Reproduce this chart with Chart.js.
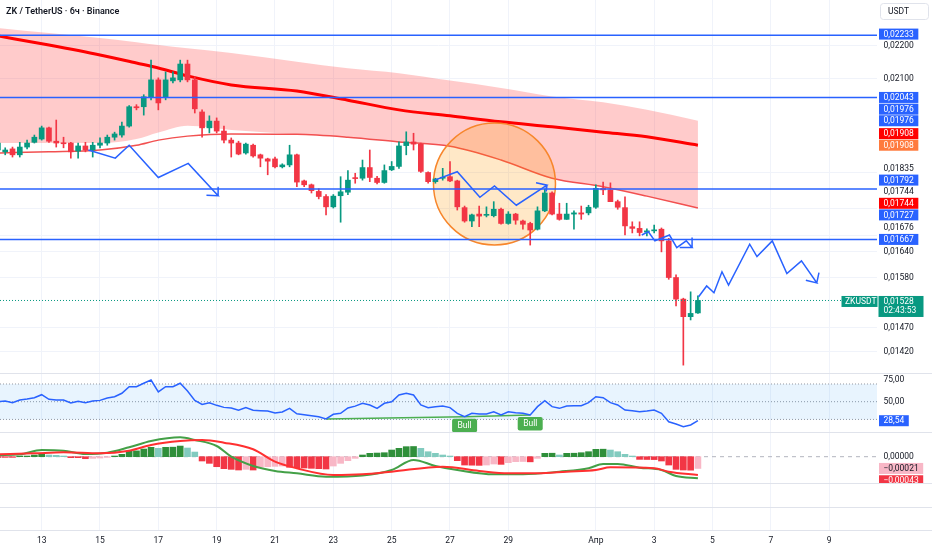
<!DOCTYPE html>
<html>
<head>
<meta charset="utf-8">
<script src="https://cdn.jsdelivr.net/npm/chart.js@4.4.1/dist/chart.umd.min.js"></script>
<style>
  body { margin: 0; background: #fff; width: 932px; height: 550px; overflow: hidden; position: relative; }
  canvas { position: absolute; left: 0; }
</style>
</head>
<body>
<canvas id="main" width="932" height="373" style="top:0"></canvas>
<canvas id="rsi" width="932" height="59" style="top:373px"></canvas>
<canvas id="macd" width="932" height="51" style="top:432px"></canvas>
<canvas id="axis" width="932" height="67" style="top:483px"></canvas>
<script>
// ZK / USDT, 6h candles. Position 0 = 12 Mar 00:00, first candle = 11 Mar 12:00
var firstPos = -2;

var open = [0.01895,0.01890,0.01898,0.01882,0.01903,0.01916,0.01925,0.01956,0.01919,0.01914,
  0.01914,0.01892,0.01906,0.01895,0.01908,0.01914,0.01930,0.01936,0.01961,0.02016,
  0.02016,0.02045,0.02095,0.02045,0.02092,0.02095,0.02143,0.02095,0.02001,0.01956,
  0.01975,0.01947,0.01922,0.01914,0.01887,0.01908,0.01882,0.01871,0.01871,0.01850,
  0.01855,0.01882,0.01813,0.01803,0.01786,0.01773,0.01747,0.01775,0.01784,0.01820,
  0.01820,0.01848,0.01820,0.01809,0.01842,0.01851,0.01907,0.01917,0.01911,0.01835,
  0.01811,0.01820,0.01824,0.01813,0.01745,0.01712,0.01729,0.01726,0.01725,0.01741,
  0.01706,0.01729,0.01712,0.01706,0.01692,0.01737,0.01782,0.01729,0.01716,0.01729,
  0.01732,0.01732,0.01746,0.01794,0.01790,0.01760,0.01745,0.01698,0.01694,0.01685,
  0.01688,0.01692,0.01664,0.01579,0.01531,0.01493,0.01501];
var high = [0.01919,0.01901,0.01903,0.01916,0.01922,0.01936,0.01961,0.01958,0.01978,0.01930,
  0.01916,0.01914,0.01916,0.01916,0.01928,0.01936,0.01944,0.01972,0.02019,0.02022,
  0.02051,0.02155,0.02101,0.02119,0.02119,0.02155,0.02155,0.02104,0.02007,0.01990,
  0.01984,0.01961,0.01928,0.01919,0.01914,0.01911,0.01884,0.01873,0.01876,0.01858,
  0.01908,0.01884,0.01815,0.01805,0.01793,0.01778,0.01778,0.01824,0.01840,0.01833,
  0.01868,0.01895,0.01825,0.01855,0.01864,0.01917,0.01945,0.01941,0.01914,0.01837,
  0.01820,0.01846,0.01864,0.01815,0.01749,0.01729,0.01749,0.01747,0.01760,0.01744,
  0.01735,0.01731,0.01714,0.01709,0.01747,0.01792,0.01785,0.01756,0.01756,0.01737,
  0.01749,0.01751,0.01803,0.01810,0.01808,0.01764,0.01772,0.01710,0.01710,0.01693,
  0.01702,0.01695,0.01670,0.01585,0.01533,0.01547,0.01538];
var low = [0.01892,0.01882,0.01876,0.01876,0.01898,0.01914,0.01922,0.01916,0.01903,0.01901,
  0.01873,0.01873,0.01890,0.01876,0.01901,0.01908,0.01922,0.01930,0.01958,0.02007,
  0.01992,0.02036,0.02007,0.02036,0.02086,0.02089,0.02089,0.01998,0.01930,0.01942,
  0.01942,0.01914,0.01876,0.01882,0.01884,0.01876,0.01850,0.01829,0.01847,0.01847,
  0.01850,0.01798,0.01798,0.01782,0.01767,0.01727,0.01744,0.01709,0.01778,0.01807,
  0.01815,0.01811,0.01805,0.01807,0.01840,0.01846,0.01882,0.01895,0.01835,0.01807,
  0.01807,0.01815,0.01811,0.01739,0.01709,0.01698,0.01698,0.01722,0.01722,0.01704,
  0.01704,0.01704,0.01692,0.01654,0.01690,0.01735,0.01727,0.01714,0.01716,0.01692,
  0.01716,0.01727,0.01743,0.01778,0.01760,0.01741,0.01678,0.01683,0.01676,0.01676,
  0.01683,0.01638,0.01575,0.01516,0.01393,0.01486,0.01500];
var close = [0.01914,0.01895,0.01882,0.01903,0.01914,0.01930,0.01956,0.01919,0.01914,0.01912,
  0.01890,0.01906,0.01895,0.01908,0.01914,0.01930,0.01939,0.01961,0.02016,0.02013,
  0.02045,0.02095,0.02027,0.02095,0.02101,0.02143,0.02095,0.02010,0.01956,0.01975,
  0.01947,0.01922,0.01914,0.01884,0.01911,0.01879,0.01873,0.01865,0.01850,0.01855,
  0.01882,0.01810,0.01803,0.01788,0.01773,0.01747,0.01774,0.01785,0.01815,0.01819,
  0.01848,0.01822,0.01809,0.01840,0.01851,0.01906,0.01917,0.01911,0.01838,0.01811,
  0.01818,0.01822,0.01813,0.01747,0.01712,0.01727,0.01724,0.01728,0.01741,0.01706,
  0.01729,0.01714,0.01704,0.01690,0.01737,0.01782,0.01729,0.01716,0.01729,0.01732,
  0.01729,0.01746,0.01794,0.01790,0.01760,0.01746,0.01700,0.01694,0.01684,0.01688,
  0.01690,0.01664,0.01579,0.01531,0.01493,0.01500,0.01528];

// moving averages and the shaded band, read at these positions
var maIdx = [-2, 5, 12, 17, 20, 24, 30, 39, 46, 53, 60, 67, 74, 81, 87, 94];
var ema200 = [0.02231,0.02202,0.02171,0.02146,0.02131,0.02107,0.02080,0.02062,0.02035,0.02007,0.01990,0.01973,0.01959,0.01944,0.01931,0.01908];
var ma50 = [0.01887,0.01890,0.01895,0.01908,0.01922,0.01933,0.01939,0.01938,0.01930,0.01917,0.01905,0.01868,0.01820,0.01798,0.01774,0.01744];
var bandTop = [0.02256,0.02240,0.02224,0.02211,0.02202,0.02192,0.02177,0.02150,0.02130,0.02115,0.02093,0.02071,0.02046,0.02029,0.02007,0.01976];
var bandBottom = [0.01914,0.01914,0.01914,0.01925,0.01943,0.01962,0.01950,0.01938,0.01930,0.01917,0.01905,0.01868,0.01820,0.01798,0.01774,0.01744];

// drawings
var hLevels = [0.02233, 0.02043, 0.01792, 0.01667];
var path1X = [10.4, 14.1, 16.0, 20.0, 24.1, 28.2, 26.6, 28.2, 28.2];
var path1Y = [0.01895,0.01873,0.01908,0.01822,0.01859,0.01775,0.01776,0.01775,0.01798];
var path2X = [57.9, 61.0, 64.1, 66.1, 69.1, 73.3, 71.8, 73.3, 73.2];
var path2Y = [0.01815,0.01837,0.01771,0.01800,0.01751,0.01802,0.01808,0.01802,0.01786];
var path3X = [86.3, 87.2, 88.1, 90.1, 91.1, 92.4, 93.2, 91.5, 93.2, 93.2];
var path3Y = [0.01678,0.01686,0.01664,0.01678,0.01648,0.01664,0.01648,0.01648,0.01648,0.01672];
var path4X = [94.1, 95.2, 96.2, 97.3, 98.2, 101.1, 102.1, 104.2, 106.2, 108.2, 110.3, 108.8, 110.3, 110.6];
var path4Y = [0.01536,0.01560,0.01545,0.01592,0.01562,0.01656,0.01627,0.01664,0.01588,0.01617,0.01567,0.01573,0.01567,0.01590];
var circleX = 66.1, circleY = 0.01805;

// price scale labels
var markPrices = [0.02233, 0.02043, 0.01976, 0.01976, 0.01908, 0.01908, 0.01792, 0.01744, 0.01727, 0.01667];
var markColors = ['#2962ff','#2962ff','#2962ff','#2962ff','#ff7a3d','#ff0000','#2962ff','#ff0000','#2962ff','#2962ff'];
var tickPrices = [0.02200, 0.02100, 0.01835, 0.01744, 0.01676, 0.01640, 0.01580, 0.01470, 0.01420];

// RSI
var rsi = [50.0,50.8,48.9,51.9,53.0,54.5,57.9,52.7,51.9,51.9,
  48.5,50.4,48.9,50.8,51.5,54.2,55.6,59.5,67.0,67.0,
  70.8,74.5,61.0,67.0,67.0,70.8,62.1,51.5,47.0,48.9,
  45.9,43.6,42.9,40.3,43.3,40.3,39.9,39.5,37.2,38.4,
  42.5,36.4,35.3,34.2,33.1,30.5,35.8,36.9,42.9,45.0,
  48.2,46.3,42.5,48.2,50.0,57.6,59.5,57.6,46.3,43.3,
  44.4,45.1,43.3,36.9,33.1,36.9,36.1,36.1,38.7,35.0,
  38.7,37.6,36.9,35.0,44.4,51.1,44.4,42.5,45.1,45.5,
  45.5,48.9,55.6,54.5,48.9,46.3,40.6,39.8,38.7,39.5,
  40.6,36.9,27.4,24.8,21.8,23.7,28.54];
var bullFrom = [43, 62];
var bullTo = [62, 71];

// MACD (values in 1e-5)
var hist = [-1.2,-1.2,-1.2,1.2,1.2,3.0,4.2,3.0,2.4,1.2,
  -1.8,-1.8,-3.6,-3.0,-2.4,-1.2,1.2,4.2,10.1,10.4,
  13.7,16.7,14.9,16.7,17.0,19.0,15.5,8.3,-7.7,-11.9,
  -17.9,-21.4,-22.6,-23.8,-22.6,-23.8,-18.5,-17.9,-17.3,-16.7,
  -19.0,-19.6,-20.2,-20.8,-21.4,-22.0,-16.7,-11.9,-7.1,-3.0,
  3.0,6.0,6.5,7.1,11.9,14.9,17.9,18.2,14.9,8.9,
  6.0,3.0,1.2,-7.1,-14.9,-15.2,-15.5,-14.9,-13.1,-13.7,
  -10.7,-8.9,-8.6,-9.2,-3.0,6.0,6.2,3.0,6.0,6.2,
  7.1,8.9,13.1,13.4,11.9,8.9,4.2,1.2,-4.8,-5.0,
  -5.2,-7.7,-14.9,-22.6,-23.8,-24.1,-21.0];
var macdIdx = [-2,1,4,7,10,13,16,19,23,25,28,30,33,36,39,43,48,52,55,58,61,66,70,75,79,81,83,86,89,91,94];
var macdLine = [3.0,4.3,12.0,10.7,4.8,7.1,16.8,28.0,34.6,29.8,19.1,0,-16.6,-25.5,-29.7,-35.7,-33.5,-23.8,-5.9,-16.6,-23.8,-31.5,-31.5,-26.8,-20.8,-13.0,-13.0,-19.6,-23.8,-34.5,-38.6];
var signalIdx = [-2,3,7,12,16,19,23,26,29,33,36,39,44,48,52,59,64,68,72,76,80,82,88,90,94];
var signalLine = [4.3,6.0,7.8,6.0,10.7,20.9,28.0,29.8,25.0,13.2,-8.9,-20.8,-32.7,-31.5,-26.8,-17.9,-25.5,-29.7,-29.7,-26.8,-23.8,-19.0,-20.8,-26.8,-32.7];
var macdTagValues = [0, -0.00021, -0.00043];
var macdTagColors = [null, '#f8b7c6', '#f23645'];

// time axis
var dayTicks = [4, 12, 20, 28, 36, 44, 52, 60, 68, 80, 88, 96, 104, 112];
var dayLabels = ['13','15','17','19','21','23','25','27','29','Апр','3','5','7','9'];

var xMin = -1.714, xMax = 118.56;
var AXIS_W = 55;
var AXIS_FONT = '8.5px Roboto';
var GRID = '#f0f3fa';
var SEP = '#e0e3eb';
var TXT = '#131722';

Chart.defaults.font.family = 'Roboto';
Chart.defaults.animation = false;
Chart.defaults.events = [];
Chart.defaults.elements.point.radius = 0;
Chart.defaults.elements.point.hoverRadius = 0;
Chart.defaults.plugins.legend.display = false;
Chart.defaults.plugins.tooltip.enabled = false;
Chart.defaults.layout.autoPadding = false;
Chart.defaults.layout.padding = 0;

var candleX = open.map(function (o, k) { return firstPos + k; });
var candleColor = open.map(function (o, k) { return close[k] >= o ? '#089981' : '#f23645'; });

function pts(xs, ys, mul) {
  return xs.map(function (x, k) { return { x: x, y: ys[k] * (mul || 1) }; });
}
function flat(v) { return [{ x: xMin, y: v }, { x: xMax, y: v }]; }
function fmt(v, d) {
  return (v < 0 ? '\u2212' : '') + Math.abs(v).toFixed(d).replace('.', ',');
}
function tag(ctx, text, x, y, bg, fg) {
  ctx.font = AXIS_FONT;
  var w = ctx.measureText(text).width + 9;
  if (bg) { ctx.fillStyle = bg; ctx.fillRect(x, y - 5.5, w, 11); }
  ctx.fillStyle = fg;
  ctx.textBaseline = 'middle';
  ctx.fillText(text, x + 4.5, y + 0.5);
}
function sepLine(ctx, y) {
  ctx.fillStyle = SEP;
  ctx.fillRect(0, y, 932, 1);
}

function xScale(labels) {
  return {
    type: 'linear', min: xMin, max: xMax, bounds: 'data', offset: false,
    grid: { color: GRID, drawTicks: false, offset: false },
    border: { display: false },
    ticks: { display: labels, color: TXT, font: { size: 8.5 }, padding: 6, maxRotation: 0, autoSkip: false,
      callback: function (v, k) { return dayLabels[k]; } },
    afterBuildTicks: function (s) { s.ticks = dayTicks.map(function (v) { return { value: v }; }); },
    afterFit: function (s) { s.height = labels ? 20 : 0; }
  };
}
function yScale(type, min, max, ticks) {
  return {
    type: type, position: 'right', min: min, max: max, bounds: 'data',
    grid: { color: GRID, drawTicks: false, display: !!ticks },
    border: { display: false },
    ticks: { display: false },
    afterBuildTicks: function (s) { if (ticks) s.ticks = ticks.map(function (v) { return { value: v }; }); },
    afterFit: function (s) { s.width = AXIS_W; }
  };
}

// ---------- main price pane ----------
var mainLabels = {
  id: 'mainLabels',
  afterDraw: function (chart) {
    var ctx = chart.ctx, ys = chart.scales.y;
    var items = [];
    markPrices.forEach(function (p, k) { items.push({ p: p, bg: markColors[k], fg: '#fff' }); });
    tickPrices.forEach(function (p) { items.push({ p: p, bg: null, fg: TXT }); });
    items.sort(function (a, b) { return a.p - b.p; });
    ctx.save();
    var prev = Infinity;
    items.forEach(function (it) {
      var py = Math.min(ys.getPixelForValue(it.p), prev - 11.6);
      prev = py;
      tag(ctx, fmt(it.p, 5), 879, py, it.bg, it.fg);
    });

    // last price
    var last = close[close.length - 1];
    var ly = ys.getPixelForValue(last);
    ctx.fillStyle = '#089981';
    ctx.fillRect(878.5, ly - 4.5, 45, 21);
    ctx.fillRect(841.5, ly - 4.5, 36, 11);
    ctx.fillStyle = '#fff';
    ctx.font = AXIS_FONT;
    ctx.textBaseline = 'middle';
    ctx.fillText(fmt(last, 5), 883.5, ly + 1);
    ctx.fillText('02:43:53', 883.5, ly + 10.5);
    ctx.fillText('ZKUSDT', 845, ly + 1);

    // currency box
    ctx.strokeStyle = SEP;
    ctx.lineWidth = 1;
    ctx.beginPath();
    ctx.roundRect(880.5, 3.5, 48, 16, 3);
    ctx.stroke();
    ctx.fillStyle = TXT;
    ctx.fillText('USDT', 888, 12);

    // title
    ctx.font = '600 9px Roboto';
    ctx.fillText('ZK / TetherUS · 6ч · Binance', 6, 11.5);
    ctx.restore();
  }
};

var mainSets = [
  { type: 'line', data: pts(maIdx, bandTop), borderWidth: 0, fill: '+1', backgroundColor: 'rgba(255,82,82,0.3)', cubicInterpolationMode: 'monotone', order: 9 },
  { type: 'line', data: pts(maIdx, bandBottom), borderWidth: 0, fill: false, cubicInterpolationMode: 'monotone', order: 9 },
  { type: 'line', data: pts(maIdx, ema200), borderColor: '#ff0000', borderWidth: 3, cubicInterpolationMode: 'monotone', order: 6 },
  { type: 'line', data: pts(maIdx, ma50), borderColor: '#f25050', borderWidth: 1.5, cubicInterpolationMode: 'monotone', order: 5 },
  { type: 'bubble', data: [{ x: circleX, y: circleY, r: 61 }], backgroundColor: 'rgba(255,152,0,0.22)', borderColor: '#f7862b', borderWidth: 1.5, order: 4 },
  { type: 'bar', data: candleX.map(function (x, k) { return { x: x, y: [low[k], high[k]] }; }), backgroundColor: candleColor, barThickness: 1, grouped: false, order: 3 },
  { type: 'bar', data: candleX.map(function (x, k) { return { x: x, y: [open[k], close[k]] }; }), backgroundColor: candleColor, barThickness: 5, minBarLength: 1, grouped: false, order: 2 },
  { type: 'line', data: flat(close[close.length - 1]), borderColor: '#089981', borderWidth: 1, borderDash: [1, 2], order: 1 }
];
hLevels.forEach(function (v) {
  mainSets.push({ type: 'line', data: flat(v), borderColor: '#2962ff', borderWidth: 1.5, order: 0 });
});
[[path1X, path1Y], [path2X, path2Y], [path3X, path3Y], [path4X, path4Y]].forEach(function (p) {
  mainSets.push({ type: 'line', data: pts(p[0], p[1]), borderColor: '#2962ff', borderWidth: 1.5, tension: 0, order: 0 });
});

new Chart(document.getElementById('main'), {
  type: 'line',
  data: { datasets: mainSets },
  options: {
    responsive: false,
    scales: { x: xScale(false), y: yScale('logarithmic', 0.013774, 0.023486, tickPrices) }
  },
  plugins: [mainLabels]
});

// ---------- RSI pane ----------
var rsiLabels = {
  id: 'rsiLabels',
  afterDraw: function (chart) {
    var ctx = chart.ctx, ys = chart.scales.y, xs = chart.scales.x;
    ctx.save();
    sepLine(ctx, 0);
    tag(ctx, '75,00', 879, ys.getPixelForValue(75), null, TXT);
    tag(ctx, '50,00', 879, ys.getPixelForValue(50), null, TXT);
    var last = rsi[rsi.length - 1];
    tag(ctx, fmt(last, 2), 879, ys.getPixelForValue(last), '#2962ff', '#fff');
    bullTo.forEach(function (i) {
      var px = xs.getPixelForValue(i), py = ys.getPixelForValue(rsi[i - firstPos]);
      ctx.fillStyle = '#4caf50';
      ctx.beginPath();
      ctx.roundRect(px - 12.5, py + 2, 25, 13.5, 2);
      ctx.fill();
      ctx.fillStyle = '#fff';
      ctx.font = AXIS_FONT;
      ctx.textAlign = 'center';
      ctx.textBaseline = 'middle';
      ctx.fillText('Bull', px, py + 9);
      ctx.textAlign = 'left';
    });
    ctx.restore();
  }
};
var rsiSets = [
  { type: 'line', data: candleX.map(function (x, k) { return { x: x, y: rsi[k] }; }), borderColor: '#2962ff', borderWidth: 1.5, order: 0 },
  { type: 'line', data: flat(70), borderColor: '#9598a1', borderWidth: 1, borderDash: [1, 2], fill: '+1', backgroundColor: 'rgba(33,150,243,0.1)', order: 3 },
  { type: 'line', data: flat(30), borderColor: '#9598a1', borderWidth: 1, borderDash: [1, 2], fill: false, order: 3 },
  { type: 'line', data: flat(50), borderColor: '#9598a1', borderWidth: 1, borderDash: [1, 2], order: 3 }
];
bullFrom.forEach(function (a, k) {
  var b = bullTo[k];
  rsiSets.push({ type: 'line', data: [{ x: a, y: rsi[a - firstPos] }, { x: b, y: rsi[b - firstPos] }], borderColor: '#4caf50', borderWidth: 1.5, order: 1 });
});
new Chart(document.getElementById('rsi'), {
  type: 'line',
  data: { datasets: rsiSets },
  options: {
    responsive: false,
    scales: { x: xScale(false), y: yScale('linear', 15.8, 82.4, null) }
  },
  plugins: [rsiLabels]
});

// ---------- MACD pane ----------
var histColor = hist.map(function (v, k) {
  var p = k > 0 ? hist[k - 1] : v;
  if (v >= 0) return v >= p ? '#2f8f3a' : '#82cbbf';
  return v <= p ? '#f23645' : '#f8b7c6';
});
var macdLabels = {
  id: 'macdLabels',
  afterDraw: function (chart) {
    var ctx = chart.ctx, ys = chart.scales.y;
    ctx.save();
    sepLine(ctx, 0);
    macdTagValues.forEach(function (v, k) {
      var bg = macdTagColors[k];
      var fg = bg === '#f23645' ? '#fff' : TXT;
      tag(ctx, fmt(v, 5), 879, ys.getPixelForValue(v), bg, fg);
    });
    ctx.restore();
  }
};
new Chart(document.getElementById('macd'), {
  type: 'line',
  data: {
    datasets: [
      { type: 'bar', data: candleX.map(function (x, k) { return { x: x, y: hist[k] * 1e-5 }; }), backgroundColor: histColor, barThickness: 6, grouped: false, order: 3 },
      { type: 'line', data: flat(0), borderColor: '#b2b5be', borderWidth: 1, borderDash: [4, 4], order: 4 },
      { type: 'line', data: pts(macdIdx, macdLine, 1e-5), borderColor: '#43a047', borderWidth: 2, cubicInterpolationMode: 'monotone', order: 1 },
      { type: 'line', data: pts(signalIdx, signalLine, 1e-5), borderColor: '#ff3030', borderWidth: 2, cubicInterpolationMode: 'monotone', order: 0 }
    ]
  },
  options: {
    responsive: false,
    scales: { x: xScale(false), y: yScale('linear', -0.00047, 0.000441, null) }
  },
  plugins: [macdLabels]
});

// ---------- empty panes + time axis ----------
var axisLines = {
  id: 'axisLines',
  afterDraw: function (chart) {
    var ctx = chart.ctx, a = chart.chartArea;
    ctx.save();
    sepLine(ctx, 0);
    sepLine(ctx, Math.round((a.top + a.bottom) / 2));
    sepLine(ctx, a.bottom);
    ctx.restore();
  }
};
new Chart(document.getElementById('axis'), {
  type: 'line',
  data: { datasets: [] },
  options: {
    responsive: false,
    scales: { x: xScale(true), y: yScale('linear', 0, 1, null) }
  },
  plugins: [axisLines]
});
</script>
</body>
</html>
